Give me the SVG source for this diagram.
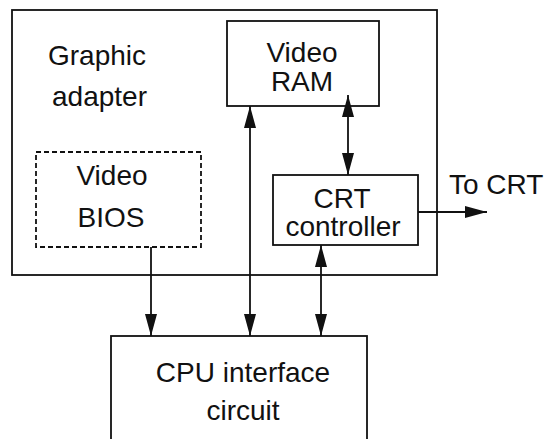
<svg xmlns="http://www.w3.org/2000/svg" width="546" height="439" viewBox="0 0 546 439">
  <defs>
    <style>
      .box { fill: none; stroke: #111; stroke-width: 1.8; }
      .dash { fill: none; stroke: #111; stroke-width: 1.8; stroke-dasharray: 5 3; }
      .wire { fill: none; stroke: #111; stroke-width: 1.8; }
      text { font-family: "Liberation Sans", Arial, sans-serif; font-size: 28px; fill: #111; }
      .c { text-anchor: middle; }
    </style>
    <marker id="ah" markerUnits="userSpaceOnUse" markerWidth="22" markerHeight="12" refX="22" refY="6" orient="auto-start-reverse" viewBox="0 0 22 12">
      <path d="M0,0 L22,6 L0,12 z" fill="#111"/>
    </marker>
  </defs>
  <rect width="546" height="439" fill="#fff"/>

  <g id="graphic-adapter">
    <rect class="box" x="12" y="10" width="425" height="265"/>
    <text x="48" y="65">Graphic</text>
    <text x="52" y="106">adapter</text>
  </g>

  <g id="video-ram">
    <rect class="box" x="227" y="21" width="152" height="85"/>
    <text class="c" x="302" y="62">Video</text>
    <text class="c" x="302" y="91">RAM</text>
  </g>

  <g id="video-bios">
    <rect class="dash" x="36" y="152" width="165" height="95"/>
    <text class="c" x="112" y="185">Video</text>
    <text class="c" x="111" y="227">BIOS</text>
  </g>

  <g id="crt-controller">
    <rect class="box" x="273" y="175" width="145" height="70"/>
    <text class="c" x="342" y="208">CRT</text>
    <text class="c" x="343" y="236">controller</text>
  </g>

  <g id="cpu-interface">
    <rect class="box" x="111" y="336" width="256" height="115"/>
    <text class="c" x="243" y="382">CPU interface</text>
    <text class="c" x="243" y="420">circuit</text>
  </g>

  <g id="to-crt-label">
    <text x="449" y="194">To CRT</text>
  </g>

  <g id="connectors">
    <line class="wire" x1="151" y1="247" x2="151" y2="336" marker-end="url(#ah)"/>
    <line class="wire" x1="250" y1="106" x2="250" y2="336" marker-start="url(#ah)" marker-end="url(#ah)"/>
    <line class="wire" x1="321" y1="245" x2="321" y2="336" marker-start="url(#ah)" marker-end="url(#ah)"/>
    <line class="wire" x1="348" y1="95" x2="348" y2="175" marker-start="url(#ah)" marker-end="url(#ah)"/>
    <line class="wire" x1="418" y1="212" x2="487" y2="212" marker-end="url(#ah)"/>
  </g>
</svg>
